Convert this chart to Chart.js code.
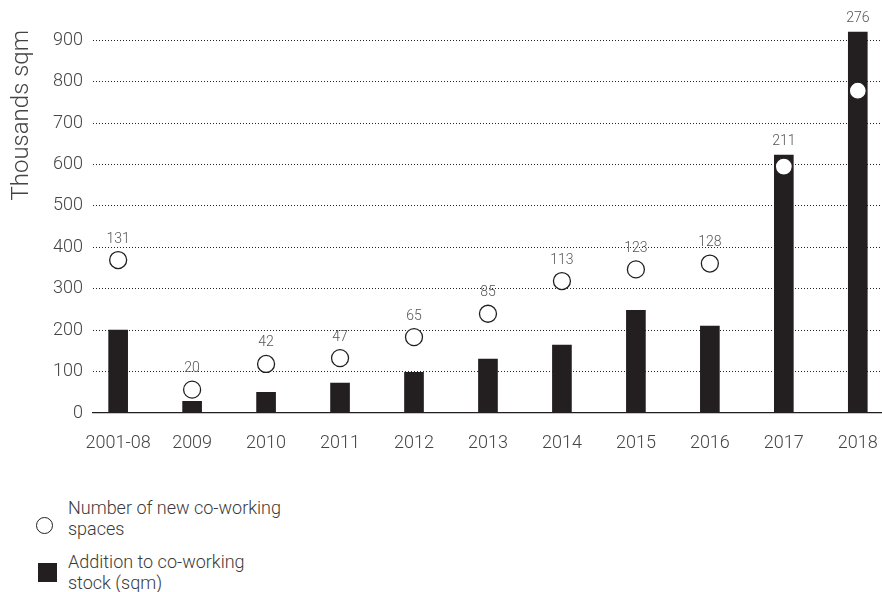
<!DOCTYPE html>
<html>
<head>
<meta charset="utf-8">
<script src="https://cdn.jsdelivr.net/npm/chart.js@4.4.1/dist/chart.umd.min.js"></script>
<style>
  body { margin: 0; background: #fff; font-family: Roboto, sans-serif; overflow: hidden; }
  #wrap { position: relative; width: 882px; height: 592px; overflow: hidden; }
  /* canvas is a little wider than the page so the grid runs out to the right edge */
  #chart { position: absolute; left: 0; top: 0; }
  .legend { position: absolute; left: 0; font-weight: 300; font-size: 18px; line-height: 21px; color: #3a3a3a; }
  .legend .txt { position: absolute; left: 68px; top: 0; white-space: nowrap; }
  .legend .dot { position: absolute; left: 36px; width: 15px; height: 15px; border: 1.3px solid #231f20; border-radius: 50%; background: #fff; }
  .legend .sq { position: absolute; left: 38px; width: 19px; height: 19px; background: #231f20; }
</style>
</head>
<body>
<div id="wrap">
  <canvas id="chart" width="892" height="470"></canvas>
  <div class="legend" style="top:497px">
    <span class="dot" style="top:20px"></span>
    <div class="txt">Number of new co-working<br>spaces</div>
  </div>
  <div class="legend" style="top:551px">
    <span class="sq" style="top:12px"></span>
    <div class="txt">Addition to co-working<br>stock (sqm)</div>
  </div>
</div>
<script>
// categories on the x axis
let years = ['2001-08', '2009', '2010', '2011', '2012', '2013', '2014', '2015', '2016', '2017', '2018'];
// addition to stock, thousands sqm
let stockAdded = [200, 28, 50, 72, 98, 130, 164, 248, 210, 623, 920];
// number of new co-working spaces
let newSpaces = [131, 20, 42, 47, 65, 85, 113, 123, 128, 211, 276];
let yTicks = [0, 100, 200, 300, 400, 500, 600, 700, 800, 900];

const ink = '#231f20';
const grey = '#555';
const H = 470;

// labels over the circles (above the bar when the circle sits inside it)
const spaceLabels = {
    id: 'spaceLabels',
    afterDatasetsDraw(chart) {
        const ctx = chart.ctx;
        const bars = chart.getDatasetMeta(0).data;
        const dots = chart.getDatasetMeta(1).data;
        ctx.save();
        ctx.font = '300 14px Roboto';
        ctx.fillStyle = grey;
        ctx.textAlign = 'center';
        ctx.textBaseline = 'middle';
        dots.forEach((pt, i) => {
            let y = pt.y - 21;
            if (pt.y > bars[i].y) y = bars[i].y - 14;
            ctx.fillText(String(newSpaces[i]), pt.x, y);
        });
        ctx.restore();
    }
};

let myChart = new Chart(document.getElementById('chart'), {
    type: 'bar',
    data: {
        datasets: [{
            type: 'bar',
            label: 'Addition to co-working stock (sqm)',
            data: stockAdded.map((v, i) => ({ x: i, y: v })),
            backgroundColor: ink,
            barThickness: 19,
            yAxisID: 'y',
            order: 2
        }, {
            type: 'line',
            label: 'Number of new co-working spaces',
            data: newSpaces.map((v, i) => ({ x: i, y: v })),
            showLine: false,
            pointRadius: 8.5,
            pointBackgroundColor: '#fff',
            pointBorderColor: ink,
            pointBorderWidth: 1.3,
            yAxisID: 'y1',
            order: 1
        }]
    },
    options: {
        responsive: false,
        animation: false,
        layout: { padding: { top: 30, right: 0, left: 0, bottom: 0 } },
        plugins: { legend: { display: false }, tooltip: { enabled: false } },
        scales: {
            x: {
                type: 'linear',
                offset: false,
                min: -0.34,
                max: 10.33,
                afterBuildTicks: axis => { axis.ticks = years.map((y, i) => ({ value: i })); },
                afterFit: axis => { axis.height = H - 413; },
                ticks: {
                    callback: v => years[v],
                    color: '#444',
                    font: { family: 'Roboto', size: 18, weight: 300 },
                    padding: 12,
                    maxRotation: 0,
                    autoSkip: false
                },
                grid: { display: false },
                border: { display: true, color: ink, width: 1.3 }
            },
            y: {
                min: 0,
                max: 925,
                afterBuildTicks: axis => { axis.ticks = yTicks.map(v => ({ value: v })); },
                afterFit: axis => { axis.width = 93; },
                ticks: {
                    color: '#444',
                    font: { family: 'Roboto', size: 18, weight: 300 },
                    padding: 10
                },
                grid: {
                    drawTicks: false,
                    color: ctx => ctx.tick.value === 0 ? 'rgba(0,0,0,0)' : '#222'
                },
                border: { display: false, dash: [1, 2] },
                title: {
                    display: true,
                    align: 'end',
                    text: 'Thousands sqm',
                    color: '#444',
                    font: { family: 'Roboto', size: 24, weight: 300 },
                    padding: { top: 8, bottom: 0 }
                }
            },
            y1: {
                display: false,
                min: 0,
                max: 328
            }
        }
    },
    plugins: [spaceLabels]
});
</script>
</body>
</html>
